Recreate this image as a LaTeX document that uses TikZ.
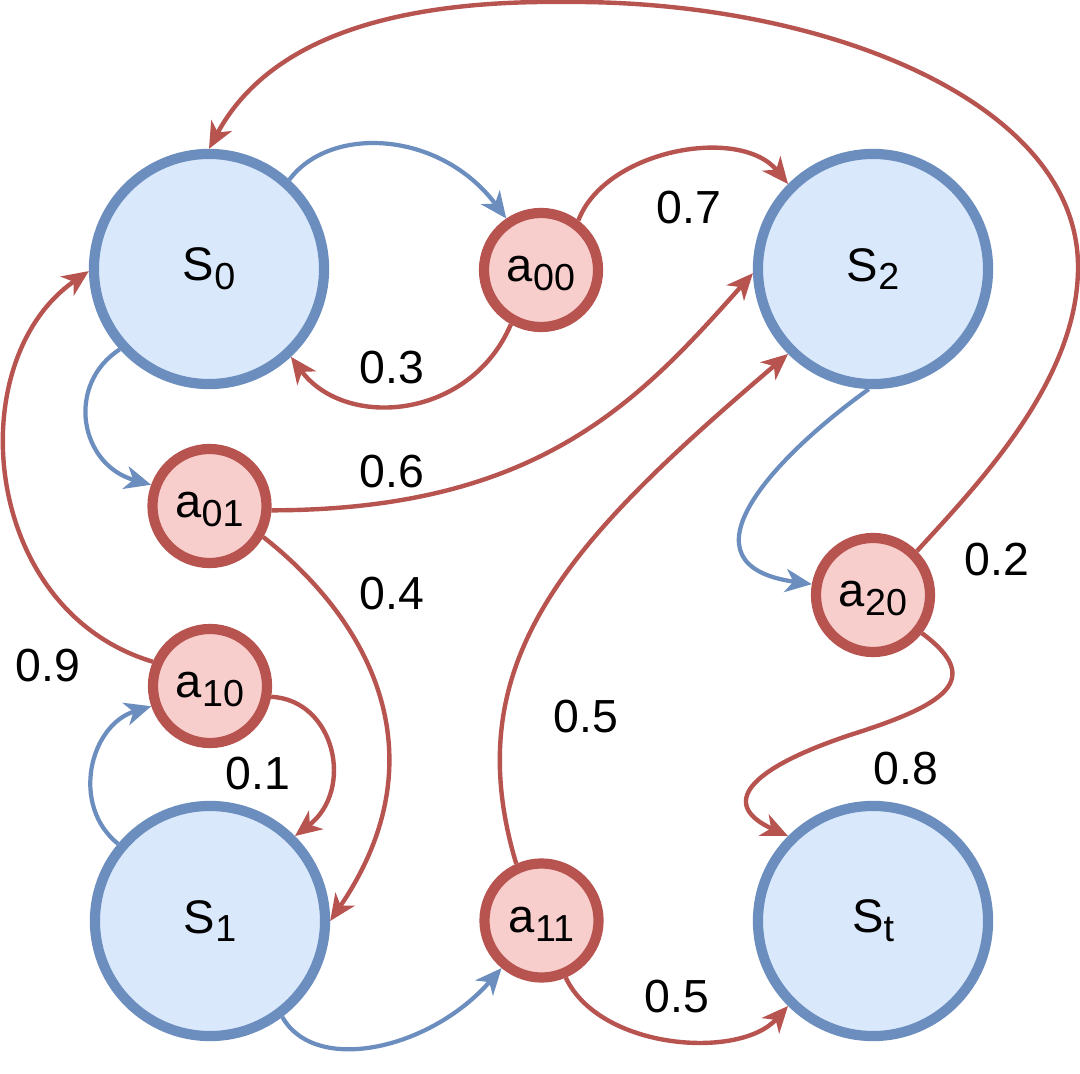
\documentclass[tikz,border=0pt]{standalone}
\usepackage{fontspec}
\setmainfont{Liberation Sans}
\usetikzlibrary{arrows.meta}
\definecolor{sfill}{HTML}{DAE8FC}
\definecolor{sline}{HTML}{6C8EBF}
\definecolor{afill}{HTML}{F8CECC}
\definecolor{aline}{HTML}{B85450}
\newcommand{\nlab}[2]{\vphantom{S}#1\raisebox{-2.5pt}{\fontsize{10.7}{12}\selectfont #2}}
\begin{document}
\begin{tikzpicture}[x=0.01cm,y=-0.01cm,
  snode/.style={circle,draw=sline,fill=sfill,line width=2.9pt,minimum size=2.3cm,inner sep=0pt,font=\fontsize{13.4}{15}\selectfont},
  anode/.style={circle,draw=aline,fill=afill,line width=2.9pt,minimum size=1.14cm,inner sep=0pt,font=\fontsize{13.4}{15}\selectfont},
  tip/.style={-{Stealth[length=7.5pt,width=6.6pt,inset=2.2pt]}},
  bedge/.style={draw=sline,line width=1.2pt,tip},
  redge/.style={draw=aline,line width=1.25pt,tip},
  plab/.style={font=\fontsize{13.2}{15}\selectfont,inner sep=0pt}]
\fill[white] (0,0) rectangle (1080,1074);
\useasboundingbox (0,0) rectangle (1080,1074);

% nodes
\node[snode] (S0) at (209,269) {\nlab{S}{0}};
\node[snode] (S2) at (873,269) {\nlab{S}{2}};
\node[snode] (S1) at (210,921) {\nlab{S}{1}};
\node[snode] (St) at (873,921) {\nlab{S}{t}};
\node[anode] (a00) at (541,270) {\nlab{a}{00}};
\node[anode] (a01) at (209.5,506) {\nlab{a}{01}};
\node[anode] (a10) at (210,686) {\nlab{a}{10}};
\node[anode] (a20) at (873,595) {\nlab{a}{20}};
\node[anode] (a11) at (541.5,920.5) {\nlab{a}{11}};

% edges
\draw[bedge] (S0.48) .. controls (330,125) and (440,130) .. (a00.124);
\draw[redge] (a00.53) .. controls (605,150) and (740,125) .. (S2.135);
\draw[redge] (a00.241) .. controls (470,420) and (345,430) .. (S0.313);
\draw[bedge] (S0.222) .. controls (65,385) and (80,465) .. (a01.160);
\draw[redge] (a01.356) .. controls (540,510) and (640,400) .. (S2.182);
\draw[redge] (a01.330) .. controls (375,625) and (440,760) .. (S1.0);
\draw[redge] (a10.157) .. controls (-20,610) and (-40,360) .. (S0.181);
\draw[bedge] (S1.140) .. controls (70,805) and (90,725) .. (a10.199);
\draw[redge] (a10.350) .. controls (335,700) and (355,790) .. (S1.45);
\draw[bedge] (S1.307) .. controls (315,1075) and (430,1050) .. (a11.230);
\draw[redge] (a11.114) .. controls (455,660) and (570,540) .. (S2.225);
\draw[redge] (a11.293) .. controls (600,1050) and (740,1060) .. (St.225);
\draw[bedge] (S2.268) .. controls (770,460) and (675,565) .. (a20.170);
\draw[redge] (a20.45) .. controls (980,482) and (1078,380) .. (1078,267)
   .. controls (1078,100) and (820,0) .. (565,2)
   .. controls (380,0) and (265,45) .. (S0.90);
\draw[redge] (a20.322) .. controls (985,680) and (945,705) .. (850,735)
   .. controls (745,770) and (720,805) .. (St.135);

% labels
\node[plab] (l07) at (689,208) {0.7};
\node[plab] (l03) at (392,368) {0.3};
\node[plab] (l06) at (392,472) {0.6};
\node[plab] (l04) at (392,594) {0.4};
\node[plab] (l05a) at (586,717) {0.5};
\node[plab] (l01) at (258,774) {0.1};
\node[plab] (l09) at (48,666) {0.9};
\node[plab] (l02) at (997,560) {0.2};
\node[plab] (l08) at (906,769) {0.8};
\node[plab] (l05b) at (677,997) {0.5};
\end{tikzpicture}
\end{document}
